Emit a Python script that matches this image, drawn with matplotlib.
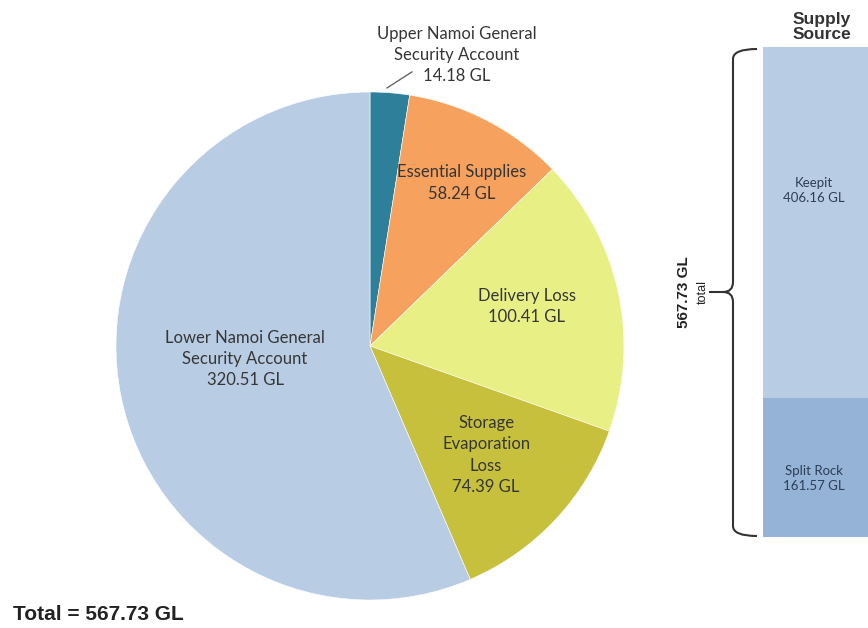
import matplotlib.pyplot as plt
from matplotlib.path import Path
from matplotlib.patches import PathPatch

# pie data (clockwise from 12 o'clock)
uses = ['Upper Namoi General\nSecurity Account', 'Essential Supplies', 'Delivery Loss',
        'Storage\nEvaporation\nLoss', 'Lower Namoi General\nSecurity Account']
use_gl = [14.18, 58.24, 100.41, 74.39, 320.51]
use_colors = ['#2e7f9a', '#f6a25e', '#e8ef85', '#c6c03c', '#b8cce4']

# supply source bar (bottom to top)
sources = ['Split Rock', 'Keepit']
source_gl = [161.57, 406.16]
source_colors = ['#95b3d7', '#b8cce4']

total = sum(use_gl)

W, H = 868, 628
fig = plt.figure(figsize=(W / 100, H / 100), dpi=100)

# pie axes: centre (370, 346) px, radius 254 px
cx, cy, R = 370, 346, 254
ax = fig.add_axes([(cx - R) / W, (H - cy - R) / H, 2 * R / W, 2 * R / H])
wedges, _ = ax.pie(use_gl, colors=use_colors, startangle=90, counterclock=False,
                   radius=1, wedgeprops=dict(edgecolor='white', linewidth=0.4))
ax.set_xlim(-1, 1)
ax.set_ylim(-1, 1)
ax.set_aspect('equal')
ax.axis('off')

lab_font = dict(family='Lato', fontsize=12, color='#363636', ha='center', va='center',
                linespacing=1.4)
lab_pos = [(0.343, 1.146), (0.362, 0.642), (0.618, 0.157), (0.457, -0.429), (-0.492, -0.051)]
for name, v, (px, py) in zip(uses, use_gl, lab_pos):
    ax.text(px, py, f'{name}\n{v:.2f} GL', **lab_font)
ax.plot([0.067, 0.165], [1.016, 1.079], color='#666666', lw=1.0, clip_on=False)

# bar axes
bx = fig.add_axes([763 / W, (H - 537) / H, 115 / W, 490 / H])
bottom = 0
for s, v, c in zip(sources, source_gl, source_colors):
    bx.bar(0, v, width=1, bottom=bottom, color=c, align='edge', edgecolor='none')
    frac = 0.59 if s == 'Keepit' else 0.42
    bx.text(0.44, bottom + v * frac, f'{s}\n{v:.2f} GL',
            ha='center', va='center', fontsize=9.5, family='Lato', color='#2d3e55',
            linespacing=1.3)
    bottom += v
bx.set_xlim(0, 1)
bx.set_ylim(0, total)
bx.axis('off')

# overlay in pixel coords for brace and captions
ov = fig.add_axes([0, 0, 1, 1], zorder=-1)
ov.set_xlim(0, W)
ov.set_ylim(H, 0)
ov.axis('off')

top, bot, xs, mid = 49, 536, 733, 292
codes = [Path.MOVETO, Path.CURVE3, Path.CURVE3, Path.LINETO, Path.CURVE3, Path.CURVE3, Path.LINETO]
upper = Path([(757, top), (xs, top), (xs, top + 10), (xs, mid - 10), (xs, mid), (xs - 10, mid),
              (xs - 24, mid)], codes)
lower = Path([(757, bot), (xs, bot), (xs, bot - 10), (xs, mid + 10), (xs, mid), (xs - 10, mid),
              (xs - 10, mid)], codes)
for p in (upper, lower):
    ov.add_patch(PathPatch(p, fill=False, edgecolor='#333333', lw=1.5))

ov.text(684, mid, f'{total:.2f} GL', rotation=90, ha='center', va='center',
        fontsize=11, fontweight='bold', family='Liberation Sans', color='#222222')
ov.text(703, mid, 'total', rotation=90, ha='center', va='center',
        fontsize=9, family='Liberation Sans', color='#222222')
ov.text(822, 27, 'Supply\nSource', ha='center', va='center', fontsize=12.5,
        fontweight='bold', family='Liberation Sans', color='#333333', linespacing=1.05)
ov.text(13, 615, f'Total = {total:.2f} GL', ha='left', va='center', fontsize=15,
        fontweight='bold', family='Liberation Sans', color='#222222')

fig.savefig('out.png', dpi=100)
